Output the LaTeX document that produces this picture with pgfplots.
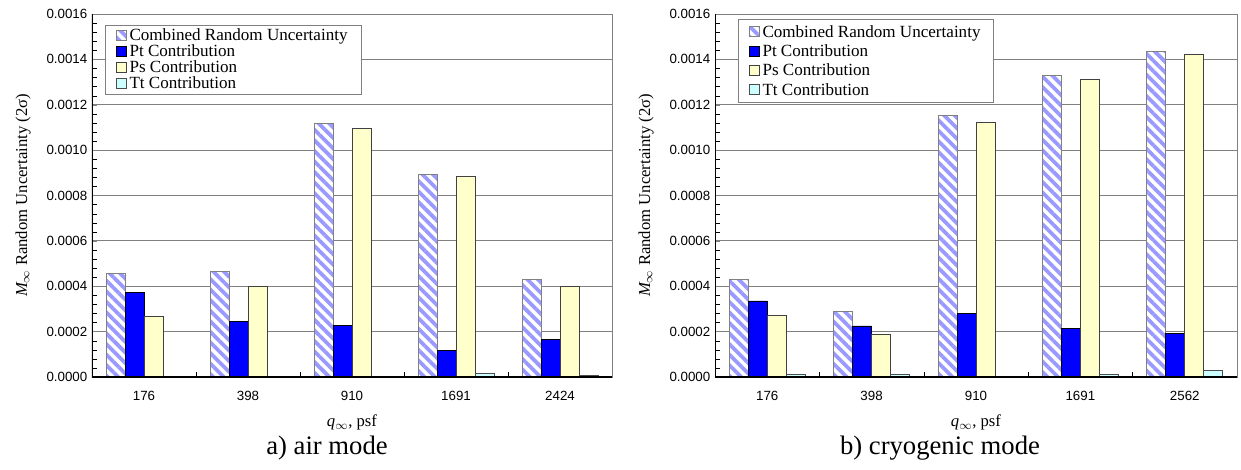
\documentclass[border=0pt]{standalone}
\usepackage{fontspec}
\setmainfont{Liberation Serif}
\setsansfont{Liberation Sans}
\usepackage{pgfplots}
\usepackage{pgfplotstable}
\pgfplotsset{compat=1.18}
\usetikzlibrary{patterns.meta}

\definecolor{hatchc}{RGB}{153,153,255}
\definecolor{ptc}{RGB}{0,0,255}
\definecolor{psc}{RGB}{255,255,204}
\definecolor{ttc}{RGB}{204,255,255}
\definecolor{gridc}{RGB}{128,128,128}

\pgfplotstableread{
x C Pt Ps Tt
0 0.000455 0.000372 0.000267 0.000004
1 0.000466 0.000245 0.000399 0.000004
2 0.001116 0.000226 0.001094 0.000004
3 0.000891 0.000117 0.000883 0.000015
4 0.000428 0.000164 0.000400 0.000008
}\airdata

\pgfplotstableread{
x C Pt Ps Tt
0 0.000428 0.000335 0.000272 0.000012
1 0.000290 0.000225 0.000188 0.000013
2 0.001154 0.000282 0.001123 0.000004
3 0.001330 0.000215 0.001310 0.000012
4 0.001434 0.000190 0.001423 0.000029
}\cryodata

\pgfplotsset{
  legsq/.style={legend image code/.code={\draw[##1] (0pt,-3.5pt) rectangle (7.5pt,4pt);}},
  combstyle/.style={draw=gridc, fill=white, line width=0.6pt,
    postaction={pattern={Lines[angle=-45,distance=5.6pt,line width=2.8pt]}, pattern color=hatchc}},
  ptstyle/.style={draw=black, fill=ptc, line width=0.6pt},
  psstyle/.style={draw=black!75, fill=psc, line width=0.6pt},
  ttstyle/.style={draw=black!70, fill=ttc, line width=0.6pt},
  barchart/.style={
    scale only axis, width=390pt, height=272.25pt,
    ybar=0pt, bar width=14.25pt,
    xmin=-0.5, xmax=4.5, ymin=0, ymax=0.0016,
    xtick={0,1,2,3,4},
    major x tick style={draw=none},
    minor xtick={-0.5,0.5,1.5,2.5,3.5,4.5},
    minor x tick style={black},
    ytick={0,0.0002,0.0004,0.0006,0.0008,0.0010,0.0012,0.0014,0.0016},
    minor y tick num=4,
    minor y tick style={black},
    ymajorgrids, major grid style={gridc, line width=0.6pt},
    tick align=inside, xtick pos=bottom, ytick pos=left,
    major tick length=3.5pt, minor tick length=3.5pt,
    axis line style={gridc, line width=0.6pt},
    scaled y ticks=false,
    yticklabel style={/pgf/number format/.cd, fixed, fixed zerofill, precision=4, assume math mode=true},
    tick label style={font=\sffamily\fontsize{10}{10}\selectfont},
    xticklabel shift=7pt,
    label style={font=\fontsize{12.5}{12.5}\selectfont},
    ylabel={{\itshape M}$_\infty$ Random Uncertainty (2σ)},
    ylabel shift=5pt,
    xlabel={{\itshape q}$_\infty$, psf},
    xlabel style={yshift=-4pt},
    legend cell align=left,
    legend style={anchor=north west, draw=gridc, line width=0.6pt,
      font=\fontsize{12.8}{12.8}\selectfont, row sep=0pt,
      nodes={text height=8.8pt, text depth=2.4pt, inner ysep=0.4pt, inner xsep=2pt},
      inner xsep=8pt, inner ysep=2pt},
  }
}

\begin{document}
\begin{tikzpicture}
\useasboundingbox (0,0) rectangle (930.75pt,-352.5pt);

\begin{axis}[barchart, at={(69pt,-10.5pt)}, anchor=north west,
  xticklabels={176,398,910,1691,2424},
  legend style={at={(0.025,0.97)}}]
\addplot[combstyle, legsq] table[x=x,y=C]{\airdata};
\addplot[ptstyle, legsq] table[x=x,y=Pt]{\airdata};
\addplot[psstyle, legsq] table[x=x,y=Ps]{\airdata};
\addplot[ttstyle, legsq] table[x=x,y=Tt]{\airdata};
\legend{Combined Random Uncertainty, Pt Contribution, Ps Contribution, Tt Contribution}
\draw[black, line width=0.8pt] (rel axis cs:0,1) -- (rel axis cs:0,0) -- (rel axis cs:1,0);
\end{axis}

\begin{axis}[barchart, at={(536.25pt,-10.5pt)}, anchor=north west, width=391.5pt,
  xticklabels={176,398,910,1691,2562},
  legend style={at={(0.044,0.985)}, nodes={text height=10.5pt, text depth=3.2pt, inner ysep=0.4pt}}]
\addplot[combstyle, legsq] table[x=x,y=C]{\cryodata};
\addplot[ptstyle, legsq] table[x=x,y=Pt]{\cryodata};
\addplot[psstyle, legsq] table[x=x,y=Ps]{\cryodata};
\addplot[ttstyle, legsq] table[x=x,y=Tt]{\cryodata};
\legend{Combined Random Uncertainty, Pt Contribution, Ps Contribution, Tt Contribution}
\draw[black, line width=0.8pt] (rel axis cs:0,1) -- (rel axis cs:0,0) -- (rel axis cs:1,0);
\end{axis}

\node[font=\fontsize{20}{20}\selectfont] at (245.25pt,-336pt) {a) air mode};
\node[font=\fontsize{20}{20}\selectfont] at (705pt,-336pt) {b) cryogenic mode};
\end{tikzpicture}
\end{document}
